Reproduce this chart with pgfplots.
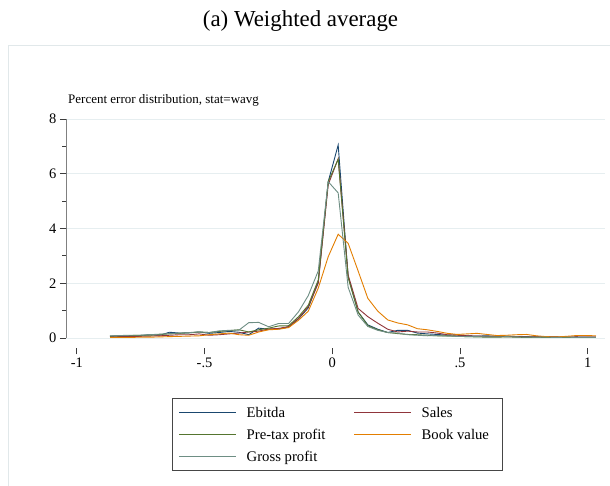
\documentclass[border=0pt]{standalone}
\usepackage{pgfplots}
\usepackage{pgfplotstable}
\pgfplotsset{compat=1.18}
\usepackage{fontspec}
\setmainfont{Liberation Serif}
\definecolor{cNavy}{RGB}{26,71,111}
\definecolor{cMaroon}{RGB}{144,53,59}
\definecolor{cGreen}{RGB}{85,117,47}
\definecolor{cOrange}{RGB}{227,126,0}
\definecolor{cTeal}{RGB}{110,142,132}
\definecolor{axiscol}{RGB}{60,60,60}
\definecolor{gridcol}{RGB}{230,238,240}
\definecolor{framecol}{RGB}{225,232,234}
\definecolor{legcol}{RGB}{70,70,70}

\pgfplotstableread{
x e s p b g
-0.870 0.06 0.04 0.07 0.02 0.08
-0.831 0.09 0.05 0.08 0.02 0.09
-0.792 0.08 0.05 0.09 0.02 0.10
-0.754 0.09 0.06 0.10 0.03 0.10
-0.715 0.12 0.07 0.10 0.03 0.12
-0.676 0.10 0.08 0.13 0.04 0.14
-0.637 0.21 0.10 0.15 0.05 0.16
-0.598 0.18 0.12 0.17 0.06 0.18
-0.559 0.19 0.12 0.19 0.07 0.20
-0.521 0.22 0.15 0.22 0.08 0.22
-0.482 0.17 0.10 0.20 0.12 0.20
-0.443 0.20 0.12 0.24 0.15 0.26
-0.404 0.24 0.15 0.27 0.18 0.28
-0.365 0.21 0.18 0.30 0.12 0.29
-0.327 0.12 0.22 0.22 0.10 0.56
-0.288 0.36 0.25 0.30 0.22 0.57
-0.249 0.32 0.33 0.36 0.30 0.41
-0.210 0.33 0.35 0.44 0.32 0.53
-0.171 0.40 0.42 0.45 0.38 0.53
-0.132 0.70 0.72 0.78 0.65 0.96
-0.094 1.10 1.15 1.20 0.98 1.55
-0.055 2.05 2.00 2.12 1.82 2.45
-0.016 5.71 5.60 5.71 2.97 5.71
0.023 7.05 6.55 6.53 3.79 5.30
0.062 2.25 2.30 2.20 3.46 1.85
0.101 0.95 1.08 0.95 2.45 0.84
0.139 0.48 0.78 0.45 1.45 0.42
0.178 0.32 0.54 0.30 0.98 0.28
0.217 0.20 0.32 0.20 0.66 0.20
0.256 0.28 0.22 0.16 0.55 0.18
0.295 0.28 0.25 0.13 0.48 0.12
0.333 0.18 0.22 0.12 0.34 0.10
0.372 0.15 0.22 0.10 0.30 0.08
0.411 0.13 0.18 0.08 0.24 0.09
0.450 0.10 0.12 0.08 0.17 0.07
0.489 0.12 0.10 0.06 0.13 0.06
0.528 0.08 0.08 0.05 0.15 0.05
0.566 0.07 0.07 0.04 0.17 0.05
0.605 0.08 0.06 0.03 0.13 0.04
0.644 0.06 0.06 0.03 0.09 0.04
0.683 0.07 0.05 0.04 0.10 0.05
0.722 0.05 0.05 0.03 0.12 0.04
0.760 0.05 0.04 0.02 0.13 0.03
0.799 0.04 0.05 0.03 0.08 0.03
0.838 0.05 0.04 0.02 0.05 0.03
0.877 0.04 0.04 0.02 0.04 0.02
0.916 0.03 0.03 0.02 0.06 0.03
0.955 0.04 0.04 0.02 0.09 0.02
0.993 0.03 0.03 0.02 0.09 0.02
1.032 0.03 0.03 0.02 0.08 0.02
}\datatable

\begin{document}
\begin{tikzpicture}
\useasboundingbox (0bp,0bp) rectangle (610bp,486bp);
\fill[white] (0bp,0bp) rectangle (610bp,486bp);
\draw[framecol, line width=0.8bp] (8bp,0bp) -- (8bp,441bp) -- (611bp,441bp);
\node[anchor=base, inner sep=0, font=\fontsize{22.9bp}{27bp}\selectfont] at (300.5bp,459bp) {(a) Weighted average};
\node[anchor=base west, inner sep=0, font=\fontsize{13bp}{15bp}\selectfont] at (68bp,382bp) {Percent error distribution, stat=wavg};
\begin{axis}[
  at={(332.3bp,148bp)}, anchor=origin,
  scale only axis, width=538bp, height=229bp,
  xmin=-1.0403, xmax=1.0653, ymin=-0.365, ymax=8,
  axis x line*=bottom, axis y line*=left,
  axis line style={draw=none},
  xtick={-1,-0.5,0,0.5,1}, xticklabels={-1,-.5,0,.5,1},
  ytick={0,2,4,6,8}, yticklabels={0,2,4,6,8},
  minor ytick={1,3,5,7},
  tick align=outside,
  major tick length=6.5bp, minor tick length=4bp,
  tick style={axiscol, line width=0.8bp},
  ymajorgrids, major grid style={gridcol, line width=0.9bp},
  ticklabel style={font=\fontsize{14.5bp}{16bp}\selectfont},
  legend columns=2,
  legend cell align=left,
  legend image code/.code={\draw[#1, line width=1.1bp] (0bp,0bp) -- (57bp,0bp);},
  legend style={at={(0.1965,-0.2183)}, anchor=north west, draw=legcol, line width=0.8bp,
    inner xsep=6bp, inner ysep=6bp, row sep=6.4bp,
    font=\fontsize{14.7bp}{16bp}\selectfont,
    nodes={inner sep=0bp, text height=13.6bp, text depth=2bp},
    /tikz/every odd column/.append style={column sep=10bp},
    /tikz/every even column/.append style={column sep=28bp}},
  every axis plot/.append style={line width=0.9bp},
]
\addplot[cNavy] table[x=x,y=e] {\datatable};
\addlegendentry{Ebitda}
\addplot[cMaroon] table[x=x,y=s] {\datatable};
\addlegendentry{Sales}
\addplot[cGreen] table[x=x,y=p] {\datatable};
\addlegendentry{Pre-tax profit}
\addplot[cOrange] table[x=x,y=b] {\datatable};
\addlegendentry{Book value\hspace*{7bp}}
\addplot[cTeal] table[x=x,y=g] {\datatable};
\addlegendentry{Gross profit}
\draw[axiscol, line width=0.8bp] (axis cs:-1,-0.365) -- (axis cs:1.032,-0.365);
\draw[axiscol, line width=0.8bp] (axis cs:-1.0403,0) -- (axis cs:-1.0403,8);
\end{axis}
\end{tikzpicture}
\end{document}
